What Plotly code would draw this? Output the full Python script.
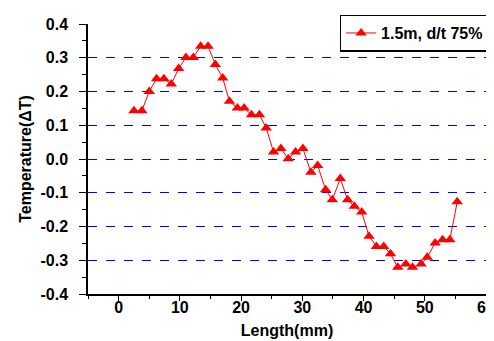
import plotly.graph_objects as go

length_mm = [2.5, 3.8, 5.0, 6.2, 7.4, 8.6, 9.8, 11.0, 12.2, 13.4, 14.6, 15.8, 17.0,
             18.1, 19.4, 20.5, 21.7, 23.0, 24.1, 25.3, 26.5, 27.7, 28.9, 30.1,
             31.4, 32.5, 33.8, 34.9, 36.2, 37.4, 38.5, 39.7, 40.9, 42.1, 43.3,
             44.4, 45.6, 46.9, 48.0, 49.4, 50.4, 51.7, 52.9, 54.1, 55.3]
temperature = [0.143, 0.143, 0.200, 0.238, 0.238, 0.222, 0.268, 0.301, 0.301, 0.334,
               0.334, 0.280, 0.240, 0.171, 0.151, 0.151, 0.131, 0.131, 0.092, 0.021,
               0.031, 0.001, 0.021, 0.031, -0.039, -0.019, -0.091, -0.121, -0.058,
               -0.121, -0.140, -0.157, -0.229, -0.259, -0.259, -0.281, -0.321, -0.311,
               -0.321, -0.311, -0.291, -0.249, -0.239, -0.239, -0.127]

series_name = "1.5m, d/t 75%"
y_tick_vals = [-0.4, -0.3, -0.2, -0.1, 0.0, 0.1, 0.2, 0.3, 0.4]
y_tick_labels = ["-0.4", "-0.3", "-0.2", "-0.1", "0.0", "0.1", "0.2", "0.3", "0.4"]
grid_vals = [-0.3, -0.2, -0.1, 0.0, 0.1, 0.2, 0.3]
x_tick_vals = [0, 10, 20, 30, 40, 50, 60]

FONT = "Liberation Sans, Arial, sans-serif"

fig = go.Figure()
# invisible trace so that the grid-carrying base axis is drawn
fig.add_trace(go.Scatter(x=[None], y=[None], yaxis="y", showlegend=False,
                         hoverinfo="skip", mode="markers"))
fig.add_trace(go.Scatter(
    x=length_mm, y=temperature, name=series_name, yaxis="y2",
    mode="lines+markers",
    line=dict(color="#FF0000", width=1),
    marker=dict(symbol="triangle-up", size=10, color="#FF0000"),
))

fig.update_layout(
    width=494, height=341,
    margin=dict(l=80, r=7, t=16, b=55),
    paper_bgcolor="white", plot_bgcolor="white",
    font=dict(family=FONT, size=16, color="black"),
    showlegend=True,
    legend=dict(
        x=1.009, y=1.035, xanchor="right", yanchor="top",
        bordercolor="black", borderwidth=1.5, bgcolor="white",
        font=dict(family=FONT, size=16, color="black", weight="bold"),
        itemwidth=30, tracegroupgap=0,
    ),
    xaxis=dict(
        range=[-5, 60], tickvals=x_tick_vals,
        ticks="outside", ticklen=5, tickwidth=1.2, tickcolor="black",
        minor=dict(dtick=5, tick0=0, ticks="outside", ticklen=3, tickcolor="black", tickwidth=1.2),
        showline=True, linecolor="black", linewidth=1.5,
        showgrid=False, zeroline=False,
        ticklabelstandoff=-7,
        tickfont=dict(family=FONT, size=16, color="black", weight="bold"),
        title=dict(text="Length(mm)", standoff=10,
                   font=dict(family=FONT, size=16, color="black", weight="bold")),
    ),
    yaxis=dict(
        range=[-0.4, 0.4], tickvals=grid_vals, showticklabels=False, ticks="",
        showgrid=True, gridcolor="rgb(0,0,255)", griddash="dash", gridwidth=1,
        showline=False, zeroline=False,
    ),
    yaxis2=dict(
        overlaying="y", side="left", anchor="x",
        range=[-0.4, 0.4], tickvals=y_tick_vals, ticktext=y_tick_labels,
        ticks="outside", ticklen=7, tickwidth=1.2, tickcolor="black",
        minor=dict(dtick=0.05, tick0=0, ticks="outside", ticklen=4, tickcolor="black", tickwidth=1.2),
        showline=True, linecolor="black", linewidth=1.5,
        showgrid=False, zeroline=False,
        ticklabelstandoff=8,
        tickfont=dict(family=FONT, size=16, color="black", weight="bold"),
        title=dict(text="Temperature(\u0394T)", standoff=5,
                   font=dict(family=FONT, size=16, color="black", weight="bold")),
    ),
)

fig.write_html("out.html")
